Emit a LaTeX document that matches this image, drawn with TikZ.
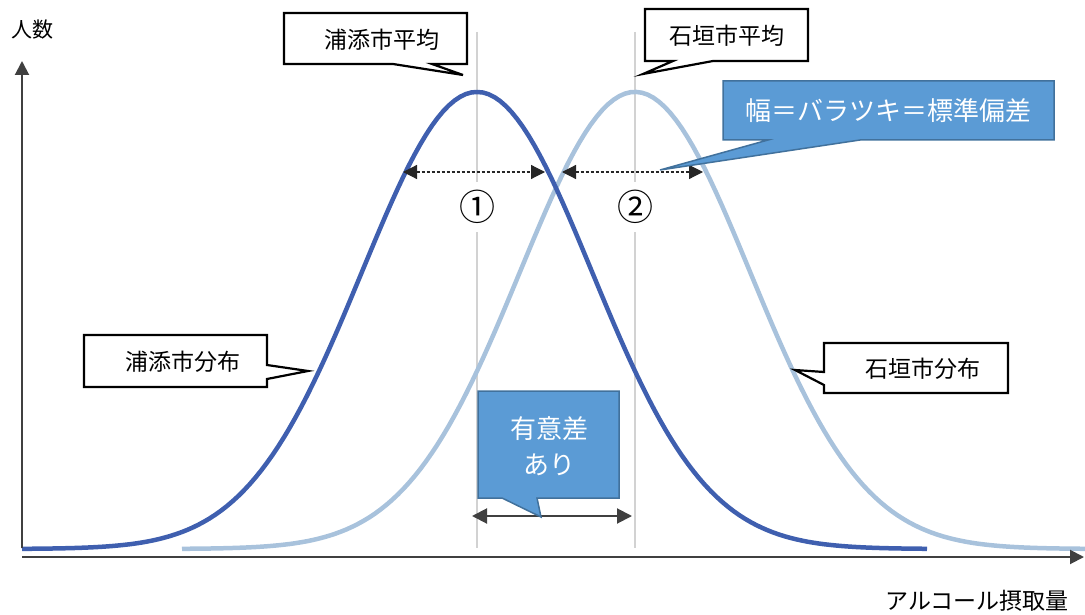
\documentclass[tikz,border=0pt]{standalone}
\usepackage{fontspec}
\setmainfont{Noto Sans CJK JP}
\usetikzlibrary{arrows.meta}
\definecolor{urblue}{HTML}{3F5FAF}
\definecolor{ishblue}{HTML}{A8C2DC}
\definecolor{boxblue}{HTML}{5B9BD5}
\definecolor{boxedge}{HTML}{41719C}
\definecolor{axisgray}{HTML}{404040}
\definecolor{meangray}{HTML}{D2D2D2}
\newcommand{\calloutfont}{\fontsize{23}{26}\selectfont}
\newcommand{\bluefont}{\fontsize{26}{36}\selectfont}

\begin{document}
\begin{tikzpicture}[x=1pt,y=-1pt,
  wcallout/.style={draw=black,fill=white,line width=2.2pt,line join=miter},
  bcallout/.style={draw=boxedge,fill=boxblue,line width=1.5pt},
  meanline/.style={meangray,line width=2.5pt},
  axisline/.style={axisgray,line width=2pt,-{Triangle[length=14pt,width=14pt]}},
  dotarrow/.style={black!85,line width=1.2pt,dash pattern=on 3pt off 2pt,
    {Triangle[length=14pt,width=14pt]}-{Triangle[length=14pt,width=14pt]}},
  sigarrow/.style={axisgray,line width=2pt,
    {Triangle[length=15pt,width=15pt]}-{Triangle[length=15pt,width=15pt]}}]
\useasboundingbox (0,0) rectangle (1085,615);

% mean lines, cut by the circled labels
\node[minimum height=50pt,font=\fontsize{36}{38}\selectfont] (c1) at (477,207) {①};
\node[minimum height=50pt,font=\fontsize{36}{38}\selectfont] (c2) at (635,207) {②};
\coordinate (m1top) at (477,32);
\coordinate (m1bot) at (477,548);
\coordinate (m2top) at (635,32);
\coordinate (m2bot) at (635,548);
\draw[meanline] (m1top) -- (c1);
\draw[meanline] (c1) -- (m1bot);
\draw[meanline] (m2top) -- (c2);
\draw[meanline] (c2) -- (m2bot);

% distributions
\draw[ishblue,line width=4.5pt] plot[domain=182:1085,samples=160]
  (\x,{549-457*exp(-0.5*((\x-635)/115)^2)});
\draw[urblue,line width=4.5pt] plot[domain=22:927,samples=160]
  (\x,{549-457*exp(-0.5*((\x-477)/115)^2)});

% axes
\coordinate (ybot) at (22,548);
\coordinate (ytop) at (22,61);
\coordinate (xleft) at (22,557);
\coordinate (xright) at (1084,557);
\draw[axisline] (ybot) -- (ytop);
\draw[axisline] (xleft) -- (xright);
\node (ylab) at (33,30) {\fontsize{21}{24}\selectfont 人数};
\node (xlab) at (977,601) {\calloutfont アルコール摂取量};

% width arrows
\coordinate (d1l) at (403,172);
\coordinate (d1r) at (545,172);
\coordinate (d2l) at (562,172);
\coordinate (d2r) at (703,172);
\draw[dotarrow] (d1l) -- (d1r);
\draw[dotarrow] (d2l) -- (d2r);

% significant difference arrow
\coordinate (sl) at (472,516);
\coordinate (sr) at (632,516);
\draw[sigarrow] (sl) -- (sr);

% white callouts
\draw[wcallout] (284,13) -- (467,13) -- (467,64) -- (432,64) -- (463,75)
  -- (393,64) -- (284,64) -- cycle;
\node (urmean) at (382,40) {\calloutfont 浦添市平均};
\draw[wcallout] (645,9) -- (808,9) -- (808,61) -- (713,61) -- (643,74)
  -- (673,61) -- (645,61) -- cycle;
\node (ishmean) at (727,36) {\calloutfont 石垣市平均};
\draw[wcallout] (84,335) -- (267,335) -- (267,365) -- (308,371) -- (267,379)
  -- (267,387) -- (84,387) -- cycle;
\node (urdist) at (183,362) {\calloutfont 浦添市分布};
\draw[wcallout] (824,343) -- (1008,343) -- (1008,393) -- (824,393) -- (824,385)
  -- (795,370) -- (824,372) -- cycle;
\node (ishdist) at (923,369) {\calloutfont 石垣市分布};

% blue callouts
\draw[bcallout] (723,81) -- (1054,81) -- (1054,140) -- (860,140) -- (660,170)
  -- (768,140) -- (723,140) -- cycle;
\node[white,font=\bluefont] (sdnote) at (888,111) {幅＝バラツキ＝標準偏差};
\draw[bcallout] (478,391) -- (619,391) -- (619,498) -- (537,498) -- (541,517)
  -- (502,498) -- (478,498) -- cycle;
\node[white,align=center,font=\bluefont] (signote) at (549,446) {有意差\\あり};
\end{tikzpicture}
\end{document}
